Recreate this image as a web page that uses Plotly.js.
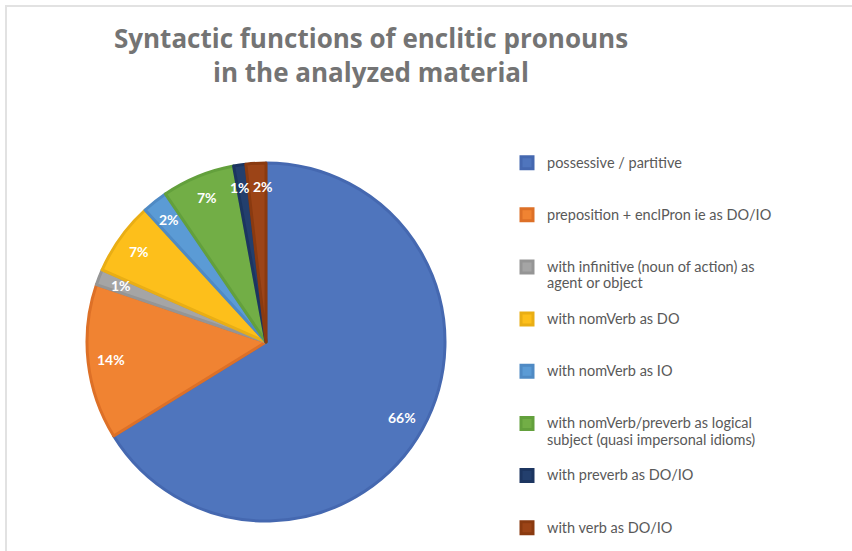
<!DOCTYPE html>
<html>
<head>
<meta charset="utf-8">
<script src="https://cdn.plot.ly/plotly-3.0.1.min.js"></script>
<style>
html,body{margin:0;padding:0;background:#fff;}
#chart{width:852px;height:551px;position:relative;}
#frame{position:absolute;left:5px;top:5px;width:860px;height:560px;border-left:2px solid #e2e2e2;border-top:2px solid #e2e2e2;pointer-events:none;}
</style>
</head>
<body>
<div id="chart"></div>
<div id="frame"></div>
<script>
// Data (percent shares)
const categories = [
  "possessive / partitive",
  "preposition + enclPron ie as DO/IO",
  "with infinitive (noun of action) as<br>agent or object",
  "with nomVerb as DO",
  "with nomVerb as IO",
  "with nomVerb/preverb as logical<br>subject (quasi impersonal idioms)",
  "with preverb as DO/IO",
  "with verb as DO/IO"
];
const shares = [66.2, 14.0, 1.4, 6.6, 2.3, 6.6, 1.1, 1.8];
const fillColors = ["#4F75BD", "#F08332", "#A5A5A5", "#FDBF1B", "#5B9BD5", "#72AE46", "#233F6D", "#9C4417"];
const edgeColors = ["#4568B0", "#DD7027", "#959595", "#E9AE15", "#4F8AC4", "#63A03C", "#1C3560", "#8A3A10"];
// small horizontal nudges of the percentage labels (style only)
const labelNudge = [0, 0, 0, 0, 0, 0, -3, 6];

// legend labels: shown at a larger size, padded to 3 lines so entries are evenly spaced
const legendLabels = categories.map(function (c, i) {
  const parts = c.split("<br>");
  const lines = parts.map(function (p) { return '<span style="font-size:14.5px">' + p + '</span>'; });
  if (i < categories.length - 1) {
    while (lines.length < 3) lines.push("\u00a0");
  }
  return lines.join("<br>");
});

// pie geometry (paper domain)
const W = 852, H = 551;
const dom = {x: [87 / W, 445 / W], y: [1 - 521 / H, 1 - 163 / H]};

const trace = {
  type: "pie",
  labels: legendLabels,
  values: shares,
  sort: false,
  direction: "clockwise",
  rotation: 0,
  marker: {colors: fillColors, line: {color: edgeColors, width: 3}},
  textinfo: "none",
  hoverinfo: "label+percent",
  domain: dom
};

// percentage labels placed from the data (mid-angle of each slice)
const total = shares.reduce(function (a, b) { return a + b; }, 0);
const cxPx = (dom.x[0] + dom.x[1]) / 2 * W;
const cyPx = (1 - (dom.y[0] + dom.y[1]) / 2) * H;
const rPx = Math.min((dom.x[1] - dom.x[0]) * W, (dom.y[1] - dom.y[0]) * H) / 2;
const annotations = [];
let acc = 0;
shares.forEach(function (v, i) {
  const mid = (acc + v / 2) / total * 2 * Math.PI;
  acc += v;
  const f = 0.87;
  const px = cxPx + rPx * f * Math.sin(mid);
  const py = cyPx - rPx * f * Math.cos(mid);
  annotations.push({
    xref: "paper", yref: "paper",
    x: px / W, y: 1 - py / H,
    xanchor: "center", yanchor: "middle",
    xshift: labelNudge[i],
    showarrow: false,
    text: "<b>" + Math.round(v / total * 100) + "%</b>",
    font: {family: "Lato", size: 14, color: "#ffffff"}
  });
});

const layout = {
  width: W,
  height: H,
  margin: {l: 0, r: 0, t: 0, b: 0, autoexpand: false},
  paper_bgcolor: "#ffffff",
  plot_bgcolor: "#ffffff",
  title: {
    text: "<b>Syntactic functions of enclitic pronouns<br>in the analyzed material</b>",
    font: {family: "Open Sans", size: 26, color: "#747474"},
    x: 371 / W, xanchor: "center", xref: "paper",
    y: 1 - 48 / H, yanchor: "middle", yref: "container"
  },
  showlegend: true,
  legend: {
    x: (547 - 40) / W, xanchor: "left",
    y: 1 - 148 / H, yanchor: "top",
    font: {family: "Lato", size: 12.6, color: "#595959"},
    bgcolor: "rgba(0,0,0,0)",
    valign: "top",
    traceorder: "normal"
  },
  annotations: annotations
};

Plotly.newPlot("chart", [trace], layout, {displayModeBar: false, staticPlot: true});
</script>
</body>
</html>
